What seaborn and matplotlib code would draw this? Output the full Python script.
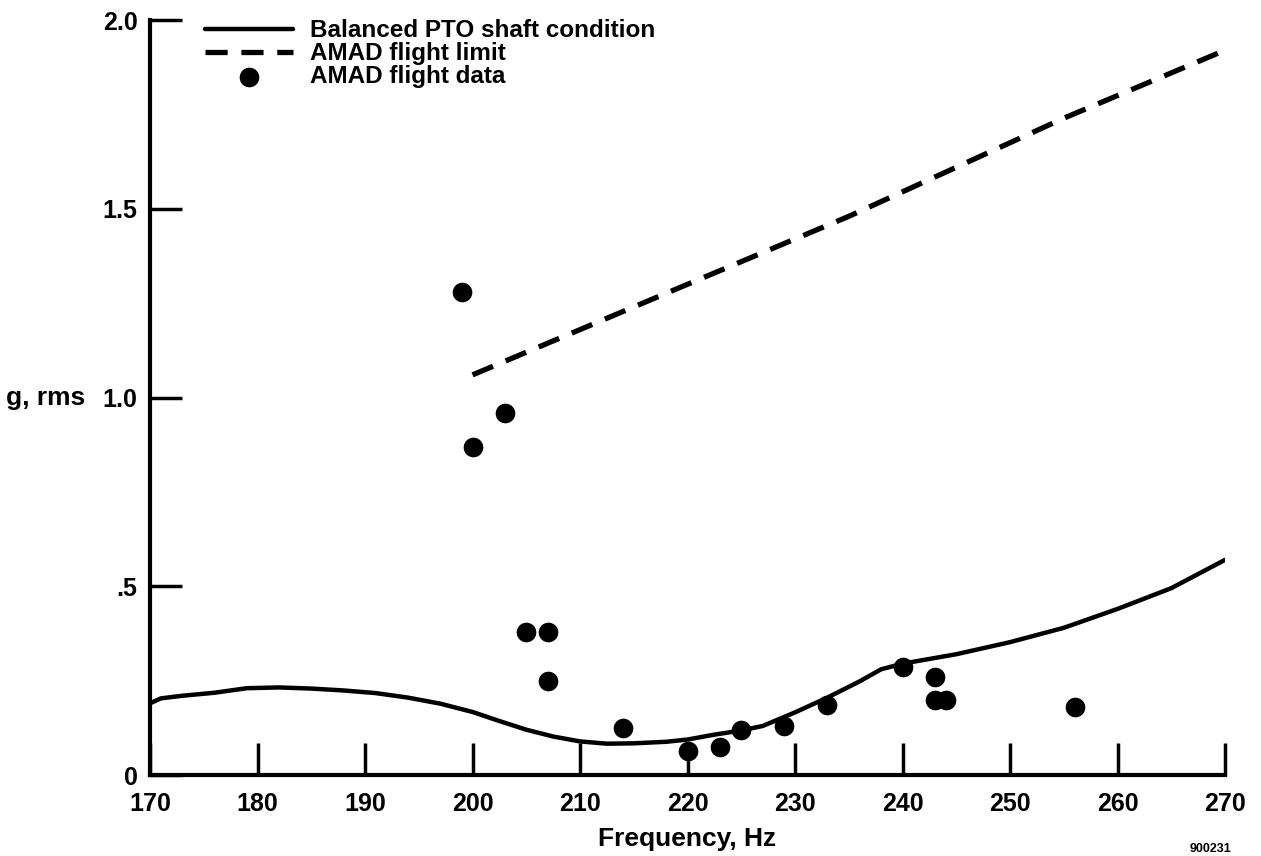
import seaborn as sns
import matplotlib.pyplot as plt
import pandas as pd

# balanced PTO shaft condition
pto_freq = [170, 171, 173, 176, 179, 182, 185, 188, 191, 194, 197, 200, 202.5, 205,
            207.5, 210, 212.5, 215, 218, 220, 222.5, 225, 227, 230, 233, 236, 238,
            240, 245, 250, 255, 260, 265, 270]
pto_g = [0.19, 0.203, 0.21, 0.218, 0.23, 0.232, 0.229, 0.224, 0.217, 0.205, 0.189,
         0.167, 0.143, 0.12, 0.102, 0.089, 0.083, 0.084, 0.088, 0.094, 0.107, 0.118,
         0.13, 0.166, 0.205, 0.248, 0.28, 0.295, 0.32, 0.352, 0.39, 0.44, 0.495, 0.57]

# AMAD flight limit
limit_freq = [200, 215, 235, 255, 270]
limit_g = [1.06, 1.24, 1.48, 1.74, 1.92]

# AMAD flight data
data_freq = [199, 200, 203, 205, 207, 207, 214, 220, 223, 225, 229, 233, 240, 243, 243, 244, 256]
data_g = [1.28, 0.87, 0.96, 0.38, 0.38, 0.25, 0.125, 0.063, 0.073, 0.12, 0.13, 0.185,
          0.285, 0.26, 0.2, 0.2, 0.18]

x_ticks = [170, 180, 190, 200, 210, 220, 230, 240, 250, 260, 270]
y_ticks = [0, 0.5, 1.0, 1.5, 2.0]
y_ticklabels = ['0', '.5', '1.0', '1.5', '2.0']

sns.set_style("ticks")
plt.rcParams['font.family'] = ['Liberation Sans', 'DejaVu Sans']
plt.rcParams['font.weight'] = 'bold'
plt.rcParams['text.color'] = 'black'
plt.rcParams['axes.labelcolor'] = 'black'

fig = plt.figure(figsize=(12.61, 8.56), dpi=100)
ax = fig.add_axes([0.119, 0.0946, 0.8525, 0.882])

pto = pd.DataFrame({'freq': pto_freq, 'g': pto_g})
lim = pd.DataFrame({'freq': limit_freq, 'g': limit_g})
pts = pd.DataFrame({'freq': data_freq, 'g': data_g})

sns.lineplot(data=pto, x='freq', y='g', ax=ax, color='black', lw=3.2,
             label='Balanced PTO shaft condition')
sns.lineplot(data=lim, x='freq', y='g', ax=ax, color='black', lw=3.8,
             linestyle=(0, (4.2, 2.6)), label='AMAD flight limit')
sns.scatterplot(data=pts, x='freq', y='g', ax=ax, color='black', s=200,
                edgecolor='black', linewidth=0, label='AMAD flight data')

ax.set_xlim(170, 270)
ax.set_ylim(0, 2.0)
ax.set_xticks(x_ticks)
ax.set_xticklabels([str(t) for t in x_ticks])
ax.set_yticks(y_ticks)
ax.set_yticklabels(y_ticklabels)

sns.despine(ax=ax)
for side in ['left', 'bottom']:
    ax.spines[side].set_linewidth(3)
    ax.spines[side].set_color('black')
ax.tick_params(axis='both', direction='in', length=23, width=2.5, colors='black',
               labelsize=18)
ax.tick_params(axis='y', pad=9)
ax.tick_params(axis='x', pad=12)
for lab in ax.get_xticklabels() + ax.get_yticklabels():
    lab.set_fontweight('bold')

ax.set_xlabel('Frequency, Hz', fontsize=19, fontweight='bold', labelpad=8)
ax.set_ylabel('g, rms', fontsize=19, fontweight='bold', rotation=0,
              ha='right', va='center')
ax.yaxis.set_label_coords(-0.06, 0.5)

leg = ax.legend(loc='upper left', bbox_to_anchor=(0.031, 1.03), frameon=False,
                handlelength=3.6, handletextpad=0.7, labelspacing=0.0,
                prop={'size': 17.5, 'weight': 'bold'}, markerscale=1.0)

fig.text(0.96, 0.005, '900231', fontsize=9, fontweight='bold', ha='center')

fig.savefig('out.png', dpi=100)
